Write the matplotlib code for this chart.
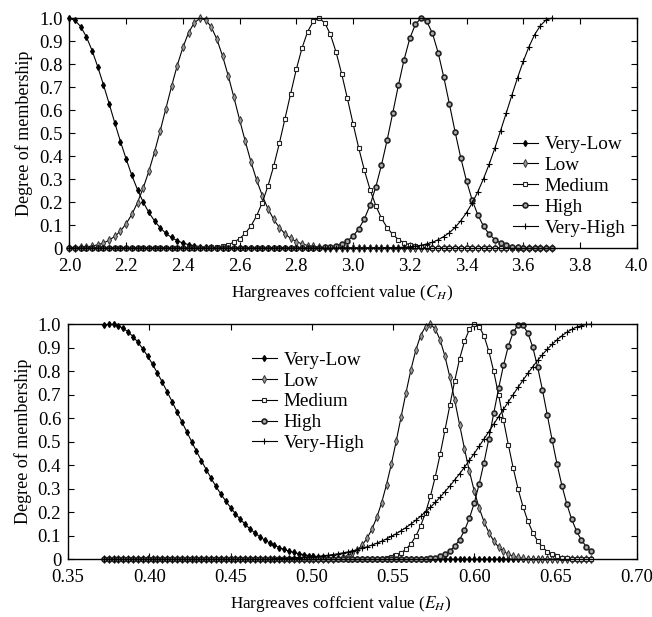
import numpy as np
import matplotlib
matplotlib.use('Agg')
import matplotlib.pyplot as plt
import matplotlib.ticker as ticker

plt.rcParams['font.family'] = ['Liberation Serif', 'DejaVu Serif']
plt.rcParams['mathtext.fontset'] = 'stix'

labels = ['Very-Low', 'Low', 'Medium', 'High', 'Very-High']

# --- top panel: C_H, sampled every 0.02 from 2.0 to 3.7 ---
x_top = np.linspace(2.0, 3.7, 86)
vl_top = [1.0, 0.99, 0.963, 0.918, 0.859, 0.788, 0.71, 0.628, 0.544, 0.463,
          0.387, 0.316, 0.254, 0.2, 0.155, 0.118, 0.088, 0.064, 0.046, 0.032,
          0.022, 0.015, 0.01, 0.0065, 0.004, 0.0025, 0.0015, 0.001] + [0.0] * 58
low_top = [0.001, 0.0018, 0.003, 0.005, 0.0087, 0.014, 0.022, 0.034, 0.051, 0.074,
           0.106, 0.146, 0.198, 0.261, 0.334, 0.418, 0.51, 0.607, 0.703, 0.794,
           0.873, 0.937, 0.98, 0.999, 0.993, 0.962, 0.908, 0.835, 0.749, 0.655,
           0.558, 0.464, 0.375, 0.296, 0.228, 0.171, 0.125, 0.089, 0.062, 0.042,
           0.028, 0.018, 0.011, 0.007, 0.004, 0.0023, 0.001] + [0.0] * 39
med_top = [0.0] * 24 + [0.0014, 0.0027, 0.005, 0.0089, 0.0153, 0.0255, 0.041, 0.064,
           0.096, 0.14, 0.198, 0.27, 0.356, 0.455, 0.563, 0.672, 0.778, 0.87,
           0.942, 0.987, 1.0, 0.98, 0.93, 0.853, 0.757, 0.651, 0.541, 0.435,
           0.338, 0.254, 0.185, 0.13, 0.089, 0.059, 0.037, 0.023, 0.0138, 0.008,
           0.0045, 0.0024, 0.0012] + [0.0] * 21
high_top = [0.0] * 44 + [0.0014, 0.0028, 0.0054, 0.01, 0.018, 0.031, 0.052, 0.083,
            0.127, 0.187, 0.265, 0.36, 0.469, 0.588, 0.709, 0.82, 0.912, 0.974,
            1.0, 0.986, 0.934, 0.85, 0.743, 0.625, 0.504, 0.391, 0.292, 0.209,
            0.144, 0.095, 0.06, 0.037, 0.022, 0.012, 0.0066, 0.0034, 0.0017] + [0.0] * 5
vh_top = [0.0] * 56 + [0.0009, 0.0014, 0.0023, 0.0036, 0.0055, 0.008, 0.012, 0.018,
          0.025, 0.036, 0.05, 0.067, 0.09, 0.119, 0.154, 0.196, 0.245, 0.302,
          0.365, 0.435, 0.51, 0.587, 0.665, 0.741, 0.812, 0.875, 0.928, 0.967,
          0.992, 1.0]

# --- bottom panel: E_H, sampled every 0.003 from 0.372 to 0.672 ---
x_bot = np.linspace(0.372, 0.672, 101)
vl_bot = [0.996, 1.0, 0.999, 0.993, 0.982, 0.967, 0.947, 0.923, 0.895, 0.864,
          0.829, 0.792, 0.753, 0.712, 0.671, 0.628, 0.585, 0.543, 0.501, 0.46,
          0.42, 0.382, 0.345, 0.31, 0.278, 0.248, 0.22, 0.194, 0.17, 0.149,
          0.129, 0.112, 0.096, 0.082, 0.07, 0.059, 0.05, 0.042, 0.035, 0.029,
          0.024, 0.02, 0.016, 0.013, 0.011, 0.0087, 0.0069, 0.0055, 0.0044, 0.0035,
          0.0027, 0.0021, 0.0016, 0.0012] + [0.0] * 47
low_bot = [0.0] * 47 + [0.0031, 0.0054, 0.0093, 0.0156, 0.0251, 0.0394, 0.06, 0.089,
           0.128, 0.178, 0.241, 0.318, 0.406, 0.504, 0.607, 0.709, 0.806, 0.889,
           0.952, 0.99, 1.0, 0.98, 0.933, 0.863, 0.775, 0.676, 0.572, 0.47,
           0.375, 0.291, 0.219, 0.16, 0.114, 0.078, 0.052, 0.034, 0.0215, 0.0132,
           0.0078, 0.0045, 0.0025] + [0.0] * 13
med_bot = [0.0] * 56 + [0.0017, 0.0032, 0.0058, 0.01, 0.0168, 0.0274, 0.0433, 0.066,
           0.098, 0.142, 0.198, 0.268, 0.351, 0.446, 0.55, 0.656, 0.76, 0.853,
           0.927, 0.978, 1.0, 0.99, 0.951, 0.885, 0.799, 0.699, 0.592, 0.487,
           0.388, 0.299, 0.224, 0.163, 0.114, 0.078, 0.052, 0.033, 0.0205, 0.0123,
           0.0072, 0.0041, 0.0022, 0.0012] + [0.0] * 3
high_bot = [0.0] * 65 + [0.0013, 0.0024, 0.0043, 0.0077, 0.0132, 0.022, 0.0354, 0.0554,
            0.0837, 0.123, 0.174, 0.239, 0.319, 0.411, 0.513, 0.621, 0.727, 0.825,
            0.907, 0.966, 0.997, 0.995, 0.963, 0.903, 0.819, 0.72, 0.613, 0.506,
            0.404, 0.313, 0.235, 0.17, 0.12, 0.0815, 0.0538, 0.0344]
vh_bot = [0.0] * 35 + [0.0028, 0.0034, 0.0041, 0.0049, 0.0058, 0.0068, 0.0081, 0.0095,
          0.0111, 0.013, 0.0151, 0.0176, 0.0204, 0.0236, 0.0273, 0.0314, 0.036, 0.0411,
          0.0469, 0.0534, 0.0605, 0.0685, 0.0772, 0.0869, 0.0975, 0.109, 0.122, 0.135,
          0.15, 0.166, 0.183, 0.202, 0.221, 0.242, 0.264, 0.288, 0.312, 0.338,
          0.364, 0.392, 0.421, 0.45, 0.481, 0.512, 0.543, 0.575, 0.607, 0.638,
          0.67, 0.701, 0.732, 0.762, 0.791, 0.819, 0.846, 0.871, 0.894, 0.915,
          0.934, 0.951, 0.966, 0.978, 0.988, 0.994, 0.999, 1.0]

# marker style per membership class
styles = [
    dict(marker='d', ms=3, mfc='black', mec='black'),
    dict(marker='d', ms=3.8, mfc='#999999', mec='#333333', mew=0.7),
    dict(marker='s', ms=3.3, mfc='white', mec='#222222', mew=0.8),
    dict(marker='o', ms=3.5, mfc='#aaaaaa', mec='#222222', mew=1.2),
    dict(marker='+', ms=5, mec='black', mew=0.8),
]


def y_fmt(v, pos):
    return '0' if abs(v) < 1e-9 else '%.1f' % v


def style_axes(ax):
    ax.set_ylim(0, 1.0)
    ax.yaxis.set_major_locator(ticker.MultipleLocator(0.1))
    ax.yaxis.set_major_formatter(ticker.FuncFormatter(y_fmt))
    ax.tick_params(direction='in', top=True, right=True, length=4, width=0.8,
                   labelsize=13.5)
    ax.tick_params(axis='x', pad=7)
    ax.tick_params(axis='y', pad=5)
    ax.set_ylabel('Degree of membership', fontsize=13, labelpad=4)
    for s in ax.spines.values():
        s.set_linewidth(1.0)


fig = plt.figure(figsize=(6.52, 6.17), dpi=100)

ax1 = fig.add_axes([0.1065, 0.598, 0.8700, 0.3725])
for ys, lab, st in zip([vl_top, low_top, med_top, high_top, vh_top], labels, styles):
    ax1.plot(x_top, ys, color='black', lw=0.8, label=lab, clip_on=False, **st)
ax1.set_xlim(2.0, 4.0)
ax1.xaxis.set_major_locator(ticker.MultipleLocator(0.2))
ax1.xaxis.set_major_formatter(ticker.FormatStrFormatter('%.1f'))
style_axes(ax1)
ax1.set_xlabel('Hargreaves coffcient value ($C_H$)', fontsize=12.3, labelpad=6)
ax1.xaxis.label.set_x(0.48)
ax1.legend(loc='upper left', bbox_to_anchor=(0.782, 0.488), frameon=False,
           fontsize=13.8, handlelength=1.3, handletextpad=0.35, labelspacing=0.18,
           borderpad=0, borderaxespad=0)

ax2 = fig.add_axes([0.1045, 0.0935, 0.8720, 0.381])
for ys, lab, st in zip([vl_bot, low_bot, med_bot, high_bot, vh_bot], labels, styles):
    ax2.plot(x_bot, ys, color='black', lw=0.8, label=lab, clip_on=False, **st)
ax2.set_xlim(0.35, 0.70)
ax2.xaxis.set_major_locator(ticker.MultipleLocator(0.05))
ax2.xaxis.set_major_formatter(ticker.FormatStrFormatter('%.2f'))
style_axes(ax2)
ax2.set_xlabel('Hargreaves coffcient value ($E_H$)', fontsize=12.3, labelpad=6)
ax2.xaxis.label.set_x(0.48)
ax2.legend(loc='upper left', bbox_to_anchor=(0.323, 0.885), frameon=False,
           fontsize=13.8, handlelength=1.3, handletextpad=0.35, labelspacing=0.18,
           borderpad=0, borderaxespad=0)

plt.savefig('out.png', dpi=100)
plt.close()
